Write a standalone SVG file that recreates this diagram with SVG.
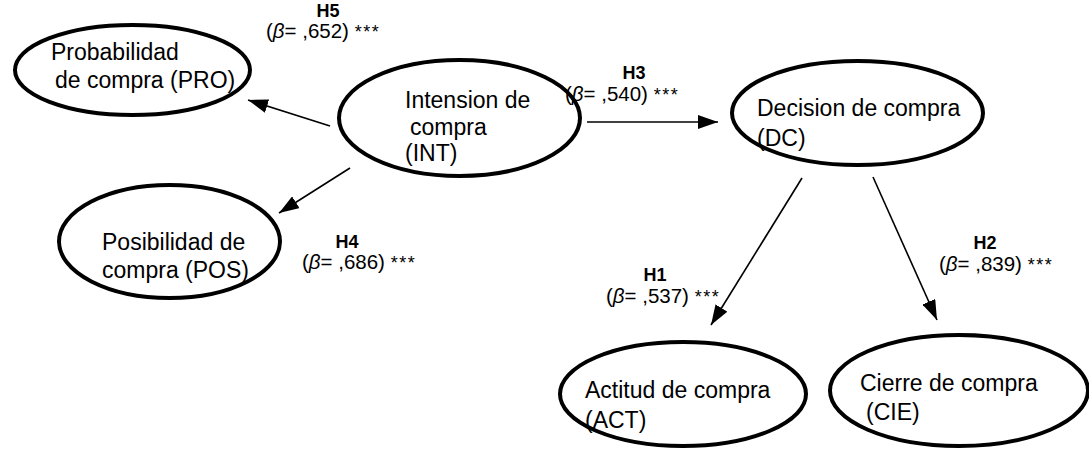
<svg xmlns="http://www.w3.org/2000/svg" width="1089" height="450" viewBox="0 0 1089 450">
<style>
.node ellipse{fill:#fff;stroke:#000;stroke-width:4}
.nt{font-family:"Liberation Sans",Arial,sans-serif;font-size:23px;fill:#000}
.h{font-family:"Liberation Sans",Arial,sans-serif;font-size:18px;font-weight:bold;fill:#000;text-anchor:middle}
.b{font-family:"Liberation Sans",Arial,sans-serif;font-size:20.5px;fill:#000}
.s{font-size:18px;letter-spacing:1.5px}
.conn line{stroke:#000;stroke-width:1.6;marker-end:url(#ah)}
</style>
<defs>
<marker id="ah" viewBox="0 0 20 14" refX="20" refY="7" markerWidth="20" markerHeight="14" markerUnits="userSpaceOnUse" orient="auto">
<path d="M0,0 L20,7 L0,14 z" fill="#000"/>
</marker>
</defs>
<rect width="1089" height="450" fill="#fff"/>
<g id="connectors" class="conn">
<line x1="330" y1="126" x2="248" y2="100"/>
<line x1="350" y1="168" x2="279" y2="213"/>
<line x1="587" y1="122" x2="718" y2="122"/>
<line x1="802" y1="178" x2="711" y2="325"/>
<line x1="873" y1="177" x2="937" y2="320"/>
</g>
<g id="node-PRO" class="node">
<ellipse cx="132.5" cy="70" rx="117.5" ry="45"/>
<text class="nt" x="51" y="60">Probabilidad</text>
<text class="nt" x="55" y="88">de compra (PRO)</text>
</g>
<g id="node-INT" class="node">
<ellipse cx="459.5" cy="118" rx="120.5" ry="58"/>
<text class="nt" x="405" y="108">Intension de</text>
<text class="nt" x="410" y="135">compra</text>
<text class="nt" x="405" y="161">(INT)</text>
</g>
<g id="node-DC" class="node">
<ellipse cx="857.5" cy="113" rx="125.5" ry="52"/>
<text class="nt" x="757" y="116">Decision de compra</text>
<text class="nt" x="757" y="146">(DC)</text>
</g>
<g id="node-POS" class="node">
<ellipse cx="169.5" cy="241.5" rx="110.5" ry="56.5"/>
<text class="nt" x="102" y="250">Posibilidad de</text>
<text class="nt" x="102" y="278">compra (POS)</text>
</g>
<g id="node-ACT" class="node">
<ellipse cx="683" cy="394" rx="123" ry="52"/>
<text class="nt" x="585" y="398">Actitud de compra</text>
<text class="nt" x="585" y="428">(ACT)</text>
</g>
<g id="node-CIE" class="node">
<ellipse cx="959" cy="390.5" rx="129" ry="55.5"/>
<text class="nt" x="860" y="391">Cierre de compra</text>
<text class="nt" x="866" y="420">(CIE)</text>
</g>
<g id="labels">
<text class="h" x="328" y="17">H5</text>
<text class="b" x="266" y="38">(<tspan font-style="italic">β</tspan>= ,652) <tspan class="s">***</tspan></text>
<text class="h" x="634" y="79">H3</text>
<text class="b" x="565" y="101">(<tspan font-style="italic">β</tspan>= ,540) <tspan class="s">***</tspan></text>
<text class="h" x="347" y="248">H4</text>
<text class="b" x="302" y="269">(<tspan font-style="italic">β</tspan>= ,686) <tspan class="s">***</tspan></text>
<text class="h" x="655" y="281">H1</text>
<text class="b" x="606" y="303">(<tspan font-style="italic">β</tspan>= ,537) <tspan class="s">***</tspan></text>
<text class="h" x="985" y="249">H2</text>
<text class="b" x="939" y="271">(<tspan font-style="italic">β</tspan>= ,839) <tspan class="s">***</tspan></text>
</g>
</svg>
